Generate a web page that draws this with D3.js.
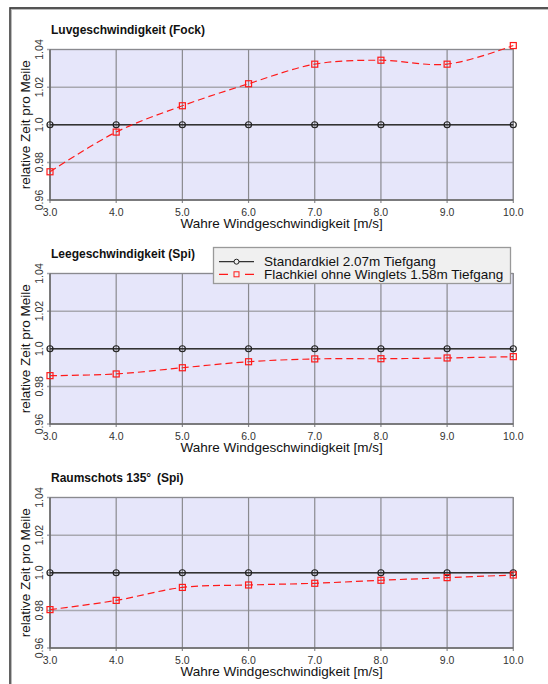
<!DOCTYPE html>
<html>
<head>
<meta charset="utf-8">
<script src="https://cdn.jsdelivr.net/npm/d3@7"></script>
<style>
  body { margin: 0; background: #fff; }
  text { font-family: "Liberation Sans", Arial, Helvetica, sans-serif; }
</style>
</head>
<body>
<div id="container"></div>
<script>
// data
const windSpeeds = [3, 4, 5, 6, 7, 8, 9, 10]
const xTickLabels = ["3.0", "4.0", "5.0", "6.0", "7.0", "8.0", "9.0", "10.0"]
const yTicks = [0.96, 0.98, 1.0, 1.02, 1.04]
const yTickLabels = ["0.96", "0.98", "1.0", "1.02", "1.04"]
const panelTitles = ["Luvgeschwindigkeit (Fock)", "Leegeschwindigkeit (Spi)", "Raumschots 135\u00B0\u2009 (Spi)"]
const seriesNames = ["Standardkiel 2.07m Tiefgang", "Flachkiel ohne Winglets 1.58m Tiefgang"]
const standardLuv = [1, 1, 1, 1, 1, 1, 1, 1]
const standardLee = [1, 1, 1, 1, 1, 1, 1, 1]
const standardRaum = [1, 1, 1, 1, 1, 1, 1, 1]
const flachLuv = [0.975, 0.9961, 1.0101, 1.0218, 1.0322, 1.0343, 1.0322, 1.0421]
const flachLee = [0.9857, 0.9866, 0.9899, 0.9931, 0.9946, 0.9947, 0.9951, 0.9958]
const flachRaum = [0.9804, 0.9853, 0.9922, 0.9935, 0.9944, 0.996, 0.9974, 0.9988]

const panels = [
  {title: panelTitles[0], standard: standardLuv, flach: flachLuv},
  {title: panelTitles[1], standard: standardLee, flach: flachLee},
  {title: panelTitles[2], standard: standardRaum, flach: flachRaum}
]

const width = 548
const height = 684
const svg = d3.create("svg")
  .attr("width", width)
  .attr("height", height)
container.append(svg.node())

// outer frame (only top and left visible)
svg.append("path")
  .attr("d", `M10.5,${height} V8.5 H${width}`)
  .attr("fill", "none")
  .attr("stroke", "#bbb")
  .attr("stroke-width", 3)
svg.append("path")
  .attr("d", `M10,${height} V8 H${width}`)
  .attr("fill", "none")
  .attr("stroke", "#333")
  .attr("stroke-width", 1.3)

const left = 50
const right = 513.3
const plotHeight = 150.5
const tops = [49.5, 273.5, 497.5]

const x = d3.scaleLinear().domain([3, 10]).range([left, right])

const drawPanel = (p, top) => {
  const y = d3.scaleLinear().domain([0.96, 1.04]).range([top + plotHeight, top])
  const g = svg.append("g")

  g.append("rect")
    .attr("x", left).attr("y", top)
    .attr("width", right - left).attr("height", plotHeight)
    .attr("fill", "#e6e6fa")

  // horizontal grid
  g.selectAll(".hg")
    .data(yTicks)
    .join("line")
    .attr("class", "hg")
    .attr("x1", left - 3).attr("x2", right)
    .attr("y1", d => y(d)).attr("y2", d => y(d))
    .attr("stroke", "#a8a8b0")
    .attr("stroke-width", 1.5)

  // vertical grid
  g.selectAll(".vg")
    .data(windSpeeds)
    .join("line")
    .attr("class", "vg")
    .attr("x1", d => x(d)).attr("x2", d => x(d))
    .attr("y1", top).attr("y2", top + plotHeight + 3)
    .attr("stroke", "#8a8a8f")
    .attr("stroke-width", 1.2)

  // frame
  g.append("path")
    .attr("d", `M${left},${top} H${right} V${top + plotHeight}`)
    .attr("fill", "none").attr("stroke", "#8a8a8f").attr("stroke-width", 1.2)
  g.append("path")
    .attr("d", `M${left},${top} V${top + plotHeight} H${right}`)
    .attr("fill", "none").attr("stroke", "#666").attr("stroke-width", 1.5)

  // tick labels
  g.selectAll(".xt")
    .data(windSpeeds)
    .join("text")
    .attr("class", "xt")
    .attr("x", d => x(d))
    .attr("y", top + plotHeight + 15.5)
    .attr("text-anchor", "middle")
    .attr("font-size", 10.5)
    .attr("fill", "#333")
    .text((d, i) => xTickLabels[i])

  g.selectAll(".yt")
    .data(yTicks)
    .join("text")
    .attr("class", "yt")
    .attr("transform", d => `translate(43,${y(d)}) rotate(-90)`)
    .attr("text-anchor", "middle")
    .attr("font-size", 10.5)
    .attr("fill", "#333")
    .text((d, i) => yTickLabels[i])

  g.append("text")
    .attr("x", (left + right) / 2)
    .attr("y", top + plotHeight + 28)
    .attr("text-anchor", "middle")
    .attr("font-size", 13.5)
    .attr("fill", "#111")
    .text("Wahre Windgeschwindigkeit [m/s]")

  g.append("text")
    .attr("transform", `translate(30,${top + plotHeight / 2}) rotate(-90)`)
    .attr("text-anchor", "middle")
    .attr("font-size", 13.5)
    .attr("fill", "#111")
    .text("relative Zeit pro Meile")

  g.append("text")
    .attr("x", left + 1)
    .attr("y", top - 16)
    .attr("font-size", 12)
    .attr("font-weight", "bold")
    .attr("fill", "#111")
    .text(p.title)

  const line = d3.line()
    .x((d, i) => x(windSpeeds[i]))
    .y(d => y(d))

  // standard keel
  g.append("path")
    .datum(p.standard)
    .attr("d", line)
    .attr("fill", "none")
    .attr("stroke", "#333")
    .attr("stroke-width", 1.6)
  g.selectAll(".c")
    .data(p.standard)
    .join("circle")
    .attr("class", "c")
    .attr("cx", (d, i) => x(windSpeeds[i]))
    .attr("cy", d => y(d))
    .attr("r", 3)
    .attr("fill", "none")
    .attr("stroke", "#222")
    .attr("stroke-width", 1.2)

  // flat keel
  g.append("path")
    .datum(p.flach)
    .attr("d", line.curve(d3.curveCatmullRom))
    .attr("fill", "none")
    .attr("stroke", "#ff1a1a")
    .attr("stroke-width", 1.2)
    .attr("stroke-dasharray", "7,4")
  g.selectAll(".s")
    .data(p.flach)
    .join("rect")
    .attr("class", "s")
    .attr("x", (d, i) => x(windSpeeds[i]) - 3)
    .attr("y", d => y(d) - 3)
    .attr("width", 6).attr("height", 6)
    .attr("fill", "none")
    .attr("stroke", "#ff1a1a")
    .attr("stroke-width", 1.2)
}

panels.forEach((p, i) => drawPanel(p, tops[i]))

// legend on the second panel
const legend = svg.append("g")
legend.append("rect")
  .attr("x", 213.5).attr("y", 247.5)
  .attr("width", 297).attr("height", 36)
  .attr("fill", "#f0f0f0")
  .attr("stroke", "#999")
  .attr("stroke-width", 1.3)

const rowY = [261.7, 274.3]
seriesNames.forEach((name, i) => {
  const ly = rowY[i]
  legend.append("line")
    .attr("x1", 219).attr("x2", 254)
    .attr("y1", ly).attr("y2", ly)
    .attr("stroke", i === 0 ? "#333" : "#ff1a1a")
    .attr("stroke-width", 1.2)
    .attr("stroke-dasharray", i === 0 ? null : "9,17")
  if (i === 0) {
    legend.append("circle")
      .attr("cx", 236.5).attr("cy", ly).attr("r", 2.5)
      .attr("fill", "#f0f0f0").attr("stroke", "#222").attr("stroke-width", 1)
  } else {
    legend.append("rect")
      .attr("x", 234).attr("y", ly - 2.5).attr("width", 5).attr("height", 5)
      .attr("fill", "#f0f0f0").attr("stroke", "#ff1a1a").attr("stroke-width", 1)
  }
  legend.append("text")
    .attr("x", 264).attr("y", ly + 4.6)
    .attr("font-size", 13.5)
    .attr("fill", "#111")
    .text(name)
})
</script>
</body>
</html>
